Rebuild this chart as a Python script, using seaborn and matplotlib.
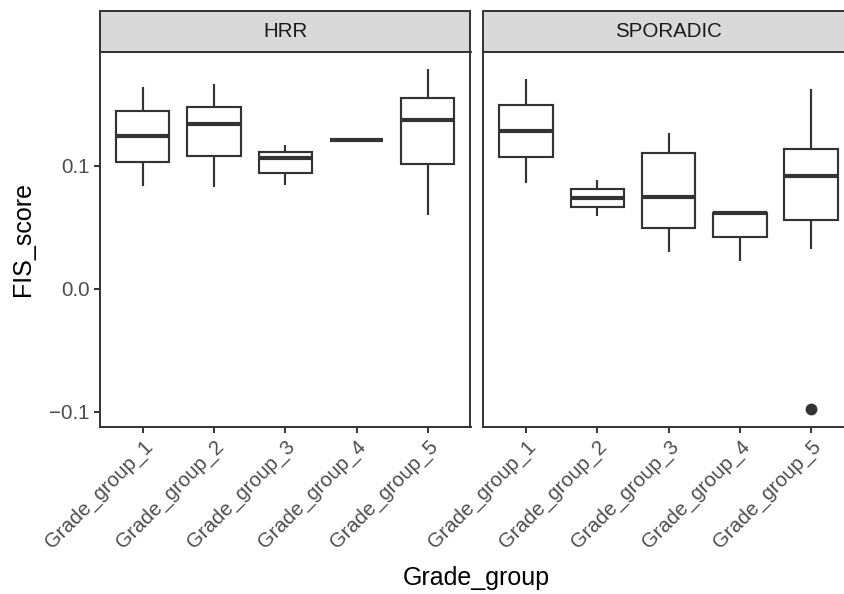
import numpy as np
import pandas as pd
import matplotlib
matplotlib.use('Agg')
import matplotlib.pyplot as plt
from matplotlib.patches import Rectangle
import seaborn as sns

grades = ['Grade_group_1', 'Grade_group_2', 'Grade_group_3', 'Grade_group_4', 'Grade_group_5']
cohorts = ['HRR', 'SPORADIC']

# FIS scores per cohort / grade group
hrr_g1 = [0.0834, 0.1028, 0.1237, 0.1440, 0.1637]
hrr_g2 = [0.0825, 0.1074, 0.1339, 0.1472, 0.1664]
hrr_g3 = [0.0842, 0.0942, 0.1058, 0.1107, 0.1164]
hrr_g4 = [0.1210, 0.1210, 0.1210]
hrr_g5 = [0.0598, 0.1015, 0.1372, 0.1545, 0.1780]

spo_g1 = [0.0860, 0.1072, 0.1283, 0.1490, 0.1700]
spo_g2 = [0.0588, 0.0660, 0.0739, 0.0812, 0.0885]
spo_g3 = [0.0300, 0.0495, 0.0744, 0.1099, 0.1266]
spo_g4 = [0.0227, 0.0422, 0.0617, 0.0617, 0.0617]
spo_g5 = [-0.0977, 0.0325, 0.0785, 0.0917, 0.1050, 0.1212, 0.1618]

ytick_vals = [-0.1, 0.0, 0.1]
ytick_labels = ['\u22120.1', '0.0', '0.1']

values = {
    'HRR': [hrr_g1, hrr_g2, hrr_g3, hrr_g4, hrr_g5],
    'SPORADIC': [spo_g1, spo_g2, spo_g3, spo_g4, spo_g5],
}

rows = []
for c in cohorts:
    for gname, vals in zip(grades, values[c]):
        for v in vals:
            rows.append((c, gname, v))
df = pd.DataFrame(rows, columns=['cohort', 'Grade_group', 'FIS_score'])

sns.set_theme(style='white')
plt.rcParams['font.family'] = ['Liberation Sans', 'DejaVu Sans']

dark = '#333333'
W, H = 844, 594

g = sns.catplot(data=df, x='Grade_group', y='FIS_score', col='cohort',
                kind='box', order=grades, col_order=cohorts,
                color='white', linecolor=dark, linewidth=1.55, width=0.75,
                showcaps=False, fliersize=7.5,
                medianprops=dict(linewidth=3.0, color=dark),
                flierprops=dict(marker='o', markerfacecolor=dark, markeredgecolor=dark),
                height=5.94, aspect=0.71)
fig = g.figure
fig.set_size_inches(W / 100, H / 100)
g.set_titles('')
g.set_axis_labels('', '')

# panel geometry in pixels
top, bottom = 52, 426.7
pw = 370.5
lefts = [100, 483.3]
strip_h = 40.7

for i, ax in enumerate(g.axes.flat):
    ax.set_position([lefts[i] / W, 1 - bottom / H, pw / W, (bottom - top) / H])
    ax.set_xlim(-0.6, 4.6)
    ax.set_ylim(-0.1121, 0.1922)
    for s in ax.spines.values():
        s.set_visible(True)
        s.set_color(dark)
        s.set_linewidth(1.4)
    ax.set_yticks(ytick_vals)
    ax.tick_params(axis='both', length=4.5, width=1.4, color=dark,
                   labelcolor='#4D4D4D', labelsize=14.8, pad=3)
    ax.tick_params(axis='y', left=(i == 0), labelleft=(i == 0))
    ax.tick_params(axis='x', bottom=True)
    if i == 0:
        ax.set_yticklabels(ytick_labels)
    ax.set_xticks(range(len(grades)))
    ax.set_xticklabels(grades, rotation=45, ha='right', va='top',
                       rotation_mode='anchor')
    ax.set_xlabel('')
    ax.set_ylabel('')
    # strip
    sh = strip_h / (bottom - top)
    ax.add_patch(Rectangle((0, 1), 1, sh, transform=ax.transAxes,
                           facecolor='#D9D9D9', edgecolor=dark, linewidth=1.4,
                           clip_on=False))
    ax.text(0.5, 1 + sh / 2, cohorts[i], transform=ax.transAxes,
            ha='center', va='center', fontsize=14.8, color='#1A1A1A')

fig.text(476.8 / W, 1 - 585 / H, 'Grade_group', ha='center', va='baseline',
         fontsize=18, color='black')
fig.text(23 / W, 1 - 239 / H, 'FIS_score', ha='center', va='center',
         rotation=90, fontsize=18, color='black')

fig.savefig('out.png', dpi=100)
